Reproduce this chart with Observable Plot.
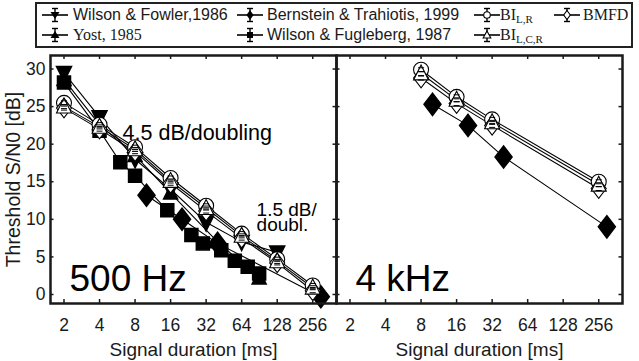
<!DOCTYPE html>
<html><head><meta charset="utf-8">
<script src="https://cdn.jsdelivr.net/npm/d3@7"></script>
<script src="https://cdn.jsdelivr.net/npm/@observablehq/plot@0.6"></script>
<style>
html,body{margin:0;padding:0;background:#fff;}
#wrap{position:relative;width:639px;height:361px;overflow:hidden;font-family:"Liberation Sans",Arial,sans-serif;color:#1a1a1a;}
#legendbox{position:absolute;left:35px;top:2px;width:598px;height:46px;box-sizing:border-box;border:2.5px solid #222;}
.item{position:absolute;height:20px;line-height:20px;font-size:16px;white-space:nowrap;}
.icon{position:absolute;width:30px;height:20px;}
.serif{font-family:"Liberation Serif","Times New Roman",serif;}
.serif sub{font-size:11px;vertical-align:-3px;line-height:0;}
#chart{position:absolute;left:0;top:50px;}
</style></head><body>
<div id="wrap"><div id="legendbox"></div><div id="chart"></div></div>
<script>
// ---------- data ----------
const panels = ["500 Hz", "4 kHz"];
const xTicks = [2, 4, 8, 16, 32, 64, 128, 256];
const yTicks = [0, 5, 10, 15, 20, 25, 30];

// Wilson & Fowler, 1986 (500 Hz)
const fowlerDur = [2, 4, 8, 16, 32, 64, 128];
const fowlerThr = [29.5, 23.6, 18.0, 14.0, 9.6, 7.0, 5.6];
// Yost, 1985 (500 Hz)
const yostDur = [2, 4, 8, 16, 40, 90];
const yostThr = [28.6, 22.6, 18.5, 13.5, 7.0, 2.2];
// Bernstein & Trahiotis, 1999
const bernsteinDur = [10, 20, 40, 300];
const bernstein500 = [13.2, 10.0, 6.8, -0.3];
const bernstein4k = [25.3, 22.5, 18.3, 9.0];
// Wilson & Fugleberg, 1987 (500 Hz)
const fuglebergDur = [2, 4, 6, 8, 15, 24, 30, 43, 56, 72, 90];
const fuglebergThr = [28.2, 21.8, 17.6, 15.8, 11.2, 7.9, 6.8, 5.9, 4.5, 3.7, 2.8];
// models
const modelDur500 = [2, 4, 8, 16, 32, 64, 128, 256];
const biLR500  = [25.5, 22.6, 19.6, 15.5, 11.8, 8.1, 4.7, 1.2];
const biLCR500 = [25.0, 22.3, 19.3, 15.1, 11.5, 7.8, 4.4, 0.9];
const bmfd500  = [24.8, 22.0, 19.0, 14.8, 11.1, 7.5, 4.2, 0.5];
const modelDur4k = [8, 16, 32, 256];
const biLR4k  = [29.9, 26.3, 23.3, 15.0];
const biLCR4k = [29.4, 25.9, 22.9, 14.6];
const bmfd4k  = [28.8, 25.4, 22.5, 14.1];

// ---------- table ----------
const rows = [];
function add(panel, series, durs, thrs) { durs.forEach((d, i) => rows.push({panel, series, dur: d, thr: thrs[i]})); }
add("500 Hz", "fowler", fowlerDur, fowlerThr);
add("500 Hz", "yost", yostDur, yostThr);
add("500 Hz", "fugleberg", fuglebergDur, fuglebergThr);
add("500 Hz", "bernstein", bernsteinDur, bernstein500);
add("4 kHz", "bernstein", bernsteinDur, bernstein4k);
add("500 Hz", "biLR", modelDur500, biLR500);
add("500 Hz", "biLCR", modelDur500, biLCR500);
add("500 Hz", "bmfd", modelDur500, bmfd500);
add("4 kHz", "biLR", modelDur4k, biLR4k);
add("4 kHz", "biLCR", modelDur4k, biLCR4k);
add("4 kHz", "bmfd", modelDur4k, bmfd4k);
const sel = s => rows.filter(d => d.series === s);
const models = rows.filter(d => ["biLR", "biLCR", "bmfd"].includes(d.series));

// ---------- symbols ----------
function poly(pts) {
  return {draw(ctx, size) {
    const r = Math.sqrt(size / Math.PI);
    ctx.moveTo(pts[0][0] * r, pts[0][1] * r);
    for (const p of pts.slice(1)) ctx.lineTo(p[0] * r, p[1] * r);
    ctx.closePath();
  }};
}
const symSquare = poly([[-1, -1], [1, -1], [1, 1], [-1, 1]]);
const symDiamond = poly([[0, -1.3], [1, 0], [0, 1.3], [-1, 0]]);
const symUp = poly([[0, -1.15], [1, 0.85], [-1, 0.85]]);
const symDown = poly([[0, 1.15], [1, -0.85], [-1, -0.85]]);
const symEq = {draw(ctx) { ctx.moveTo(-3, -2); ctx.lineTo(3, -2); ctx.moveTo(-3, 2); ctx.lineTo(3, 2); }};

// ---------- layout ----------
const W = 639, H = 311, mT = 5, mB = 58, mL = 49, mR = 17;
const plotH = H - mT - mB;
const facetW = (W - mL - mR) / 2;
const ink = "#1a1a1a";
const P = {x: "dur", y: "thr", fx: "panel"};

const chart = Plot.plot({
  width: W, height: H,
  marginTop: mT, marginBottom: mB, marginLeft: mL, marginRight: mR,
  style: {fontFamily: '"Liberation Sans", Arial, sans-serif', fontSize: "17px", color: ink, background: "white"},
  fx: {domain: panels, padding: 0, axis: null},
  x: {type: "log", base: 2, domain: [1.537, 407]},
  y: {domain: [-1.2, 31.8]},
  marks: [
    Plot.line(rows, {...P, z: "series", stroke: "black", strokeWidth: 1.1}),
    Plot.dot(sel("fugleberg"), {...P, symbol: symSquare, r: 6.5, fill: "black", stroke: "black"}),
    Plot.dot(sel("yost"), {...P, symbol: symUp, r: 7, fill: "black", stroke: "black"}),
    Plot.dot(sel("bernstein"), {...P, symbol: symDiamond, r: 8.5, fill: "black", stroke: "black"}),
    Plot.dot(sel("fowler"), {...P, symbol: symDown, r: 7.5, fill: "black", stroke: "black"}),
    Plot.dot(sel("biLR"), {...P, symbol: "circle", r: 7.5, fill: "white", stroke: "black", strokeWidth: 1.1}),
    Plot.dot(sel("bmfd"), {...P, symbol: symDiamond, r: 7.5, fill: "white", stroke: "black", strokeWidth: 1.1}),
    Plot.dot(sel("biLCR"), {...P, symbol: symUp, r: 7.5, fill: "white", stroke: "black", strokeWidth: 1.1}),
    Plot.dot(models, {...P, symbol: symEq, r: 3, fill: "none", stroke: "black", strokeWidth: 1}),
    Plot.frame({stroke: ink, strokeWidth: 2.5}),
    Plot.tickX(xTicks, {x: d => d, insetTop: plotH - 4, stroke: ink, strokeWidth: 1.5}),
    Plot.tickX(xTicks, {x: d => d, insetBottom: plotH - 4, stroke: ink, strokeWidth: 1.5}),
    Plot.tickY(yTicks, {y: d => d, insetRight: facetW - 4, stroke: ink, strokeWidth: 1.5}),
    Plot.tickY(yTicks, {y: d => d, insetLeft: facetW - 4, stroke: ink, strokeWidth: 1.5}),
    Plot.axisX({ticks: xTicks, tickSize: 0, tickPadding: 15, tickFormat: d => String(d), fontSize: 17.5, label: null}),
    Plot.axisY({ticks: yTicks, tickSize: 0, tickPadding: 5, fontSize: 17.5, label: null}),
    Plot.text(["Signal duration [ms]"], {text: d => d, frameAnchor: "bottom", lineAnchor: "middle", textAnchor: "middle", dy: 46, fontSize: 19, fill: ink}),
    Plot.text([{panel: "500 Hz", label: "Threshold S/N0 [dB]"}], {fx: "panel", text: "label", frameAnchor: "left", textAnchor: "middle", lineAnchor: "middle", rotate: -90, dx: -36.5, fontSize: 19.5, fill: ink}),
    Plot.text(panels.map(p => ({panel: p, label: p})), {fx: "panel", text: "label", frameAnchor: "bottom-left", textAnchor: "start", lineAnchor: "middle", dx: 19, dy: -24, fontSize: 37, fill: "black"}),
    Plot.text([{panel: "500 Hz", dur: 6.27, thr: 21.5, label: "4.5 dB/doubling"}], {...P, text: "label", textAnchor: "start", fontSize: 21.5, fill: "black"}),
    Plot.text([{panel: "500 Hz", dur: 85.6, thr: 10.05, label: "1.5 dB/\ndoubl."}], {...P, text: "label", textAnchor: "start", lineHeight: 0.8, fontSize: 19, fill: "black"})
  ]
});
document.getElementById("chart").appendChild(chart);

// ---------- legend ----------
const legendItems = [
  {kind: "fowler", html: "Wilson &amp; Fowler,1986", serif: false, cx: 55, tx: 73, cy: 15},
  {kind: "bernstein", html: "Bernstein &amp; Trahiotis, 1999", serif: false, cx: 250, tx: 267, cy: 15},
  {kind: "biLR", html: "BI<sub>L,R</sub>", serif: true, cx: 487, tx: 500, cy: 15},
  {kind: "bmfd", html: "BMFD", serif: true, cx: 567, tx: 583, cy: 15},
  {kind: "yost", html: "Yost, 1985", serif: true, cx: 55, tx: 73, cy: 35},
  {kind: "fugleberg", html: "Wilson &amp; Fugleberg, 1987", serif: false, cx: 250, tx: 267, cy: 35},
  {kind: "biLCR", html: "BI<sub>L,C,R</sub>", serif: true, cx: 487, tx: 500, cy: 35}
];
function marker(kind) {
  switch (kind) {
    case "fowler": return '<path d="M15,14L10.5,7L19.5,7Z" fill="black"/>';
    case "yost": return '<path d="M15,6L19.5,13L10.5,13Z" fill="black"/>';
    case "bernstein": return '<path d="M15,5L18.5,10L15,15L11.5,10Z" fill="black"/>';
    case "fugleberg": return '<rect x="12" y="7" width="6" height="6" fill="black"/>';
    case "biLR": return '<circle cx="15" cy="10" r="3.3" fill="white" stroke="black" stroke-width="1.1"/>';
    case "bmfd": return '<path d="M15,5.5L18.3,10L15,14.5L11.7,10Z" fill="white" stroke="black" stroke-width="1.1"/>';
    case "biLCR": return '<path d="M15,6L18.8,13L11.2,13Z" fill="white" stroke="black" stroke-width="1.1"/>';
  }
}
const wrap = document.getElementById("wrap");
for (const it of legendItems) {
  const ic = document.createElement("div");
  ic.className = "icon";
  ic.style.left = (it.cx - 15) + "px";
  ic.style.top = (it.cy - 10) + "px";
  ic.innerHTML = '<svg width="30" height="20" viewBox="0 0 30 20">' +
    '<line x1="2" y1="10" x2="28" y2="10" stroke="black" stroke-width="1.6"/>' +
    '<line x1="15" y1="3.5" x2="15" y2="16.5" stroke="black" stroke-width="1.4"/>' +
    '<line x1="12" y1="3.5" x2="18" y2="3.5" stroke="black" stroke-width="1.4"/>' +
    '<line x1="12" y1="16.5" x2="18" y2="16.5" stroke="black" stroke-width="1.4"/>' +
    marker(it.kind) + '</svg>';
  wrap.appendChild(ic);
  const tx = document.createElement("div");
  tx.className = "item" + (it.serif ? " serif" : "");
  tx.style.left = it.tx + "px";
  tx.style.top = (it.cy - 10) + "px";
  tx.innerHTML = it.html;
  wrap.appendChild(tx);
}
</script>
</body></html>
